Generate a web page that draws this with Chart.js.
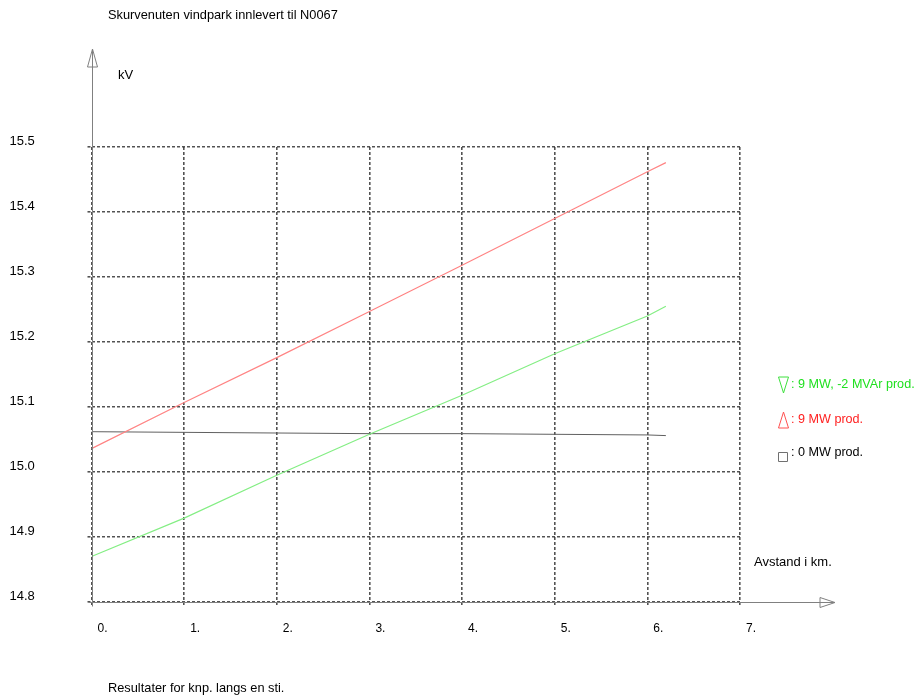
<!DOCTYPE html>
<html>
<head>
<meta charset="utf-8">
<script src="https://cdn.jsdelivr.net/npm/chart.js@4/dist/chart.umd.min.js"></script>
<style>
  html, body { margin: 0; padding: 0; background: #ffffff; }
  #wrap { width: 918px; height: 696px; position: relative; }
</style>
</head>
<body>
<div id="wrap"><canvas id="c" width="918" height="696"></canvas></div>
<script>
// ---- data ----
const titleText = "Skurvenuten vindpark innlevert til N0067";
const footerText = "Resultater for knp. langs en sti.";
const yUnitText = "kV";
const xUnitText = "Avstand i km.";

const distances = [0, 1, 2, 3, 4, 5, 6, 6.2];
const prod9MWminus2MVAr = [14.870, 14.929, 14.995, 15.058, 15.118, 15.182, 15.240, 15.255];
const prod9MW = [15.036, 15.107, 15.176, 15.247, 15.318, 15.390, 15.462, 15.476];
const prod0MW = [15.062, 15.061, 15.060, 15.059, 15.059, 15.058, 15.057, 15.056];

const xTickValues = [0, 1, 2, 3, 4, 5, 6, 7];
const yTickValues = [14.8, 14.9, 15.0, 15.1, 15.2, 15.3, 15.4, 15.5];

const legendLabels = [": 9 MW, -2 MVAr prod.", ": 9 MW prod.", ": 0 MW prod."];
const legendMarkers = ["triangleDown", "triangleUp", "square"];

const FONT = "'Liberation Sans', Arial, sans-serif";
const lineColors = ["#84ee84", "#ff8484", "#606060"];
const textColors = ["#1fe01f", "#ff2020", "#000000"];
const markerColors = ["#3ee03e", "#ff5050", "#707070"];
const gridColor = "rgba(40,40,40,0.8)";

function toPoints(xs, ys) { return xs.map((x, i) => ({ x: x, y: ys[i] })); }

const decorPlugin = {
  id: 'decor',
  afterDraw(chart) {
    const ctx = chart.ctx;
    const xs = chart.scales.x, ys = chart.scales.y;
    const x0 = Math.round(xs.getPixelForValue(0)) + 0.5;
    const yB = Math.round(ys.getPixelForValue(14.8)) + 0.5;
    ctx.save();
    // axes
    ctx.strokeStyle = "#808080";
    ctx.lineWidth = 1;
    ctx.setLineDash([]);
    ctx.beginPath();
    ctx.moveTo(x0, yB + 4);
    ctx.lineTo(x0, 49);
    ctx.moveTo(x0 - 4, yB);
    ctx.lineTo(835, yB);
    ctx.stroke();
    // arrow heads (open)
    ctx.fillStyle = "#ffffff";
    ctx.beginPath();
    ctx.moveTo(x0, 49);
    ctx.lineTo(x0 - 5, 67);
    ctx.lineTo(x0 + 5, 67);
    ctx.closePath();
    ctx.fill(); ctx.stroke();
    ctx.beginPath();
    ctx.moveTo(835, yB);
    ctx.lineTo(820, yB - 5);
    ctx.lineTo(820, yB + 5);
    ctx.closePath();
    ctx.fill(); ctx.stroke();
    ctx.beginPath();
    ctx.moveTo(x0, 49); ctx.lineTo(x0, 67);
    ctx.moveTo(820, yB); ctx.lineTo(835, yB);
    ctx.stroke();

    // texts
    ctx.fillStyle = "#000000";
    ctx.textBaseline = "middle";
    ctx.textAlign = "left";
    ctx.font = "12.8px " + FONT;
    ctx.fillText(titleText, 108, 15);
    ctx.fillText(footerText, 108, 688);
    ctx.font = "13px " + FONT;
    ctx.fillText(yUnitText, 118, 75);
    ctx.fillText(xUnitText, 754, 562);

    // legend
    const legendY = [385, 420, 455];
    for (let i = 0; i < legendLabels.length; i++) {
      const cy = legendY[i];
      ctx.strokeStyle = markerColors[i];
      ctx.lineWidth = 1;
      ctx.beginPath();
      if (legendMarkers[i] === "triangleDown") {
        ctx.moveTo(778.5, cy - 8); ctx.lineTo(788.5, cy - 8); ctx.lineTo(783.5, cy + 8); ctx.closePath();
      } else if (legendMarkers[i] === "triangleUp") {
        ctx.moveTo(783.5, cy - 8); ctx.lineTo(788.5, cy + 8); ctx.lineTo(778.5, cy + 8); ctx.closePath();
      } else {
        ctx.rect(778.5, cy - 2.5, 9, 9);
      }
      ctx.stroke();
      ctx.fillStyle = textColors[i];
      ctx.font = "12.6px " + FONT;
      ctx.fillText(legendLabels[i], 791, i === 2 ? cy - 2 : cy);
    }
    ctx.restore();
  }
};

new Chart(document.getElementById('c'), {
  type: 'line',
  data: {
    datasets: [
      { label: legendLabels[0], data: toPoints(distances, prod9MWminus2MVAr), borderColor: lineColors[0], borderWidth: 1.2, pointRadius: 0, tension: 0, fill: false },
      { label: legendLabels[1], data: toPoints(distances, prod9MW), borderColor: lineColors[1], borderWidth: 1.2, pointRadius: 0, tension: 0, fill: false },
      { label: legendLabels[2], data: toPoints(distances, prod0MW), borderColor: lineColors[2], borderWidth: 1, pointRadius: 0, tension: 0, fill: false }
    ]
  },
  options: {
    responsive: false,
    animation: false,
    devicePixelRatio: 1,
    layout: { padding: { left: 9.5, right: 178, top: 147, bottom: 54 } },
    plugins: { legend: { display: false }, tooltip: { enabled: false }, title: { display: false } },
    scales: {
      x: {
        type: 'linear',
        min: 0, max: 7,
        afterBuildTicks(scale) { scale.ticks = xTickValues.map(v => ({ value: v })); },
        afterFit(scale) { scale.height = 40; },
        border: { display: false, dash: [3, 2] },
        grid: { color: gridColor, lineWidth: 1.6, tickLength: 5, drawTicks: true, tickColor: gridColor, tickWidth: 1.6, tickBorderDash: [3, 2] },
        ticks: {
          color: "#000000",
          font: { family: FONT, size: 12 },
          padding: 14,
          labelOffset: 11,
          maxRotation: 0,
          autoSkip: false,
          callback: (v) => v + "."
        }
      },
      y: {
        type: 'linear',
        min: 14.8, max: 15.5,
        afterBuildTicks(scale) { scale.ticks = yTickValues.map(v => ({ value: v })); },
        afterFit(scale) { scale.width = 82; },
        border: { display: false, dash: [3, 2] },
        grid: { color: gridColor, lineWidth: 1.6, tickLength: 4, drawTicks: true, tickColor: gridColor, tickWidth: 1.6, tickBorderDash: [3, 2] },
        ticks: {
          color: "#000000",
          font: { family: FONT, size: 13 },
          crossAlign: 'far',
          labelOffset: -6,
          autoSkip: false,
          callback: (v) => Number(v).toFixed(1)
        }
      }
    }
  },
  plugins: [decorPlugin]
});
</script>
</body>
</html>
